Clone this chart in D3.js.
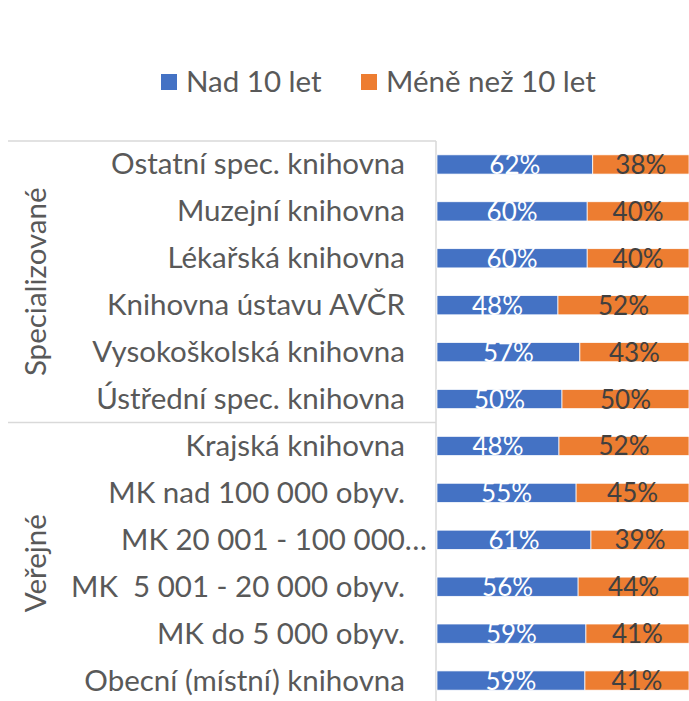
<!DOCTYPE html>
<html>
<head>
<meta charset="utf-8">
<script src="https://cdn.jsdelivr.net/npm/d3@7"></script>
<style>
  body { margin: 0; background: #fff; }
  text { font-family: Lato, "Open Sans", sans-serif; white-space: pre; }
</style>
</head>
<body>
<script>
let width = 689;
let height = 701;

// categories top to bottom
let categories = [
    "Ostatní spec. knihovna",
    "Muzejní knihovna",
    "Lékařská knihovna",
    "Knihovna ústavu AVČR",
    "Vysokoškolská knihovna",
    "Ústřední spec. knihovna",
    "Krajská knihovna",
    "MK nad 100 000 obyv.",
    "MK 20 001 - 100 000…",
    "MK  5 001 - 20 000 obyv.",
    "MK do 5 000 obyv.",
    "Obecní (místní) knihovna"
];
let groupNames = ["Specializované", "Veřejné"];
let groupOf = [0, 0, 0, 0, 0, 0, 1, 1, 1, 1, 1, 1];

let seriesNames = ["Nad 10 let", "Méně než 10 let"];
let over10 = [61.8, 59.6, 59.6, 48.0, 56.7, 49.6, 48.4, 55.2, 61.1, 56.0, 59.1, 58.7];
let under10 = [38.2, 40.4, 40.4, 52.0, 43.3, 50.4, 51.6, 44.8, 38.9, 44.0, 40.9, 41.3];

let colors = ["#4472C4", "#ED7D31"];
let labelColors = ["#ffffff", "#404040"];

let svg = d3.select("body")
    .append("svg")
    .attr("width", width)
    .attr("height", height);

let plotTop = 141, plotBottom = 704;
let axisX = 436;
let fontSize = 29.5;

let x = d3.scaleLinear().domain([0, 100]).range([437, 689]);
let y = d3.scaleBand()
    .domain(categories)
    .range([plotTop, plotBottom])
    .paddingInner(0.59)
    .paddingOuter(0.295);

let rows = categories.map((c, i) => ({ cat: c, vals: [over10[i], under10[i]] }));
let stack = d3.stack().keys([0, 1]).value((d, k) => d.vals[k]);
let stacked = stack(rows);

// group separators
let groupBounds = groupNames.map((g, gi) => {
    let cats = categories.filter((c, i) => groupOf[i] === gi);
    return { name: g, y0: y(cats[0]) - y.step() * y.paddingInner() / 2, y1: y(cats[cats.length - 1]) + y.bandwidth() + y.step() * y.paddingInner() / 2 };
});

svg.selectAll(".sep")
    .data(groupBounds)
    .enter().append("line")
    .attr("x1", 8).attr("x2", axisX)
    .attr("y1", d => d.y0).attr("y2", d => d.y0)
    .attr("stroke", "#d9d9d9").attr("stroke-width", 1.5);

svg.append("line")
    .attr("x1", axisX).attr("x2", axisX)
    .attr("y1", plotTop).attr("y2", plotBottom)
    .attr("stroke", "#d9d9d9").attr("stroke-width", 1.5);

// bars
let layer = svg.selectAll(".layer")
    .data(stacked)
    .enter().append("g")
    .attr("fill", d => colors[d.key]);

layer.selectAll("rect")
    .data(d => d)
    .enter().append("rect")
    .attr("x", d => x(d[0]))
    .attr("width", d => x(d[1]) - x(d[0]))
    .attr("y", d => y(d.data.cat))
    .attr("height", y.bandwidth())
    .attr("stroke", "#fff")
    .attr("stroke-width", 0.75);

// data labels
stacked.forEach(s => {
    svg.selectAll(".lbl" + s.key)
        .data(s)
        .enter().append("text")
        .attr("x", d => x((d[0] + d[1]) / 2))
        .attr("y", d => y(d.data.cat) + y.bandwidth() / 2 + 9.5)
        .attr("text-anchor", "middle")
        .attr("font-size", 26)
        .attr("fill", labelColors[s.key])
        .text(d => d3.format(".0f")(d[1] - d[0]) + "%");
});

// category labels
let catLabel = svg.selectAll(".cat")
    .data(categories)
    .enter().append("text")
    .attr("y", d => y(d) + y.bandwidth() / 2 + 10)
    .attr("font-size", fontSize)
    .attr("fill", "#595959")
    .attr("text-anchor", "end")
    .attr("x", d => d.endsWith("…") ? 427 : 405)
    .text(d => d);

// group labels
svg.selectAll(".grp")
    .data(groupBounds)
    .enter().append("text")
    .attr("transform", d => `translate(46,${(d.y0 + d.y1) / 2}) rotate(-90)`)
    .attr("text-anchor", "middle")
    .attr("font-size", fontSize)
    .attr("fill", "#595959")
    .text(d => d.name);

// legend
let legend = svg.append("g");
let legendX = [161, 361];
seriesNames.forEach((name, i) => {
    legend.append("rect")
        .attr("x", legendX[i]).attr("y", 74)
        .attr("width", 16).attr("height", 16)
        .attr("fill", colors[i]);
    legend.append("text")
        .attr("x", legendX[i] + 25).attr("y", 92)
        .attr("font-size", fontSize)
        .attr("fill", "#595959")
        .text(name);
});
</script>
</body>
</html>
